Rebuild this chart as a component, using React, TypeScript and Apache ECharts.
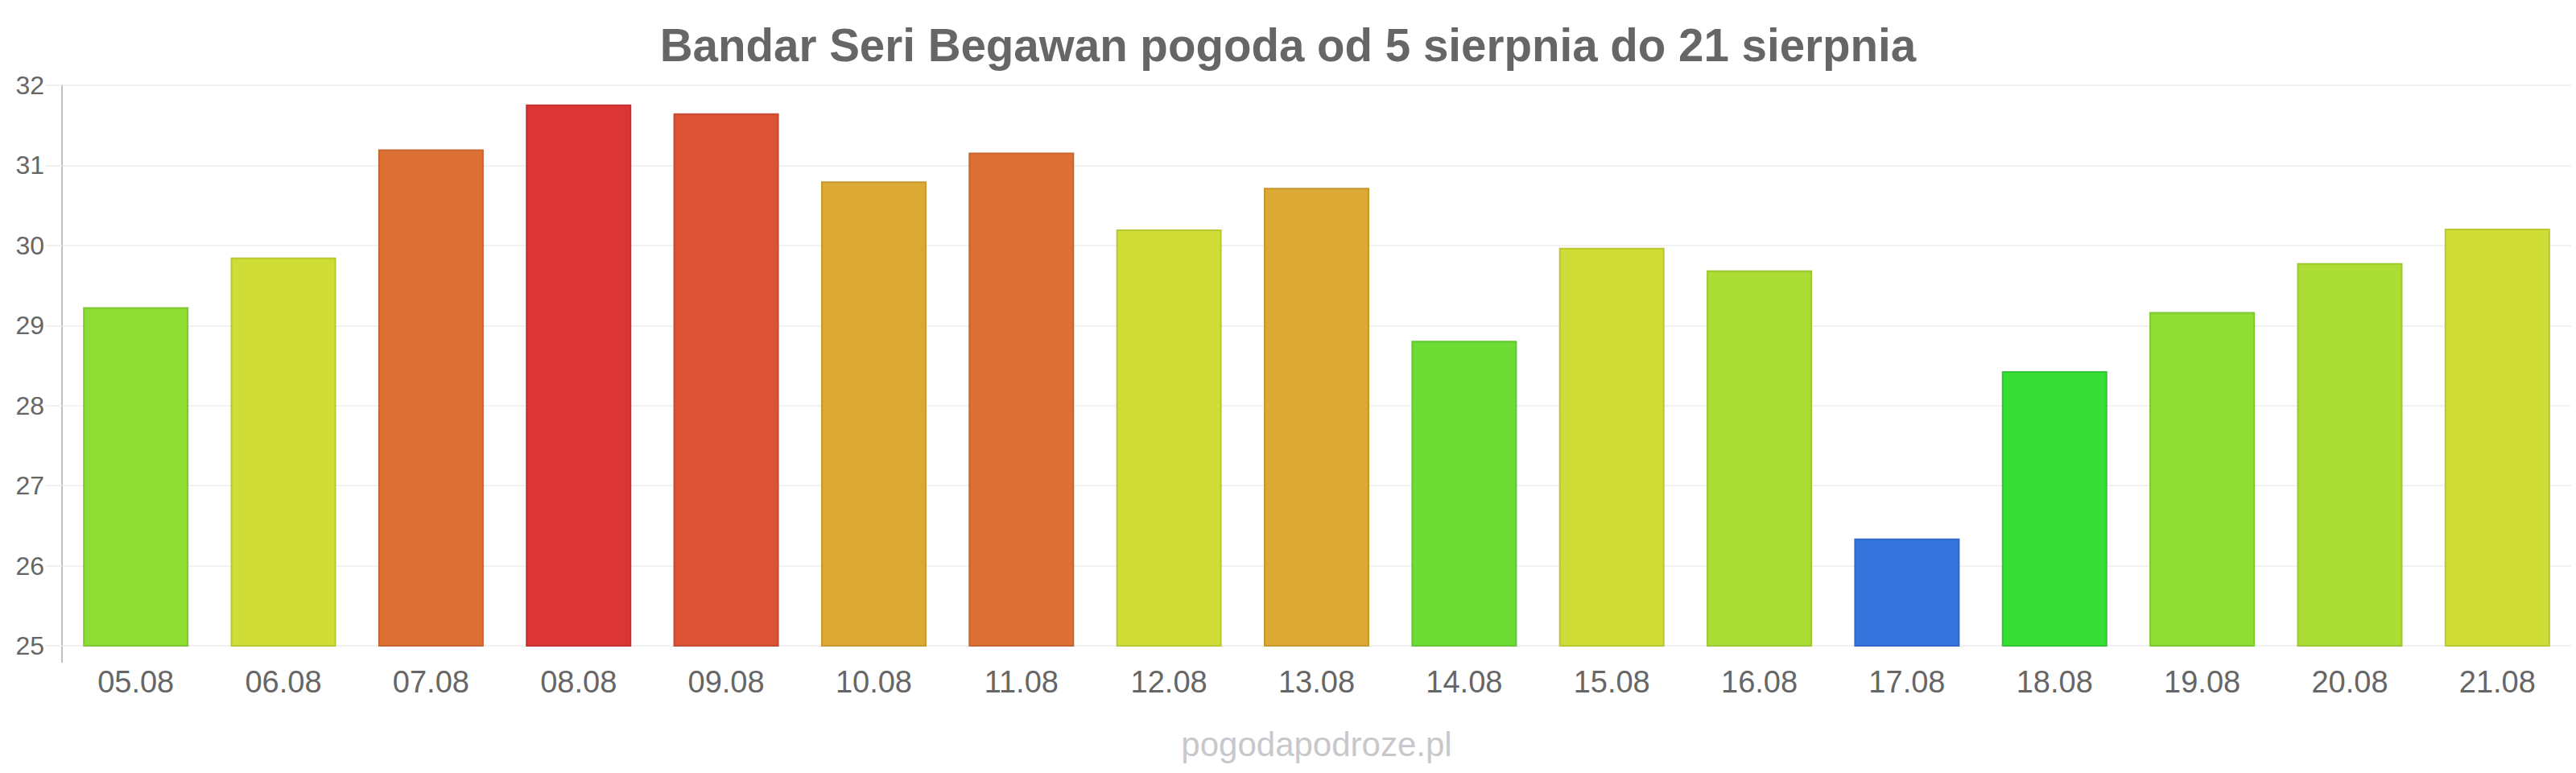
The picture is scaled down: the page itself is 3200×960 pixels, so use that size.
import React, { useEffect, useRef } from "react";
import * as echarts from "echarts";

const titleText = "Bandar Seri Begawan pogoda od 5 sierpnia do 21 sierpnia";
const watermarkText = "pogodapodroze.pl";

const categories = [
  "05.08", "06.08", "07.08", "08.08", "09.08", "10.08", "11.08", "12.08", "13.08",
  "14.08", "15.08", "16.08", "17.08", "18.08", "19.08", "20.08", "21.08",
];

const temperatures = [
  29.23, 29.85, 31.2, 31.76, 31.65, 30.8, 31.16, 30.2, 30.72,
  28.81, 29.97, 29.69, 26.34, 28.43, 29.17, 29.78, 30.21,
];

const barColors = [
  "#8ddd35", "#cfdd36", "#dd7035", "#db3535", "#dc5235", "#dda935", "#dd7035", "#cfdd36", "#dda935",
  "#6ddd35", "#cfdd36", "#acdd35", "#3575dd", "#35dd35", "#8ddd35", "#acdd35", "#cfdd36",
];

const yMin = 25;
const yMax = 32;
const yInterval = 1;

const FONT = "'Liberation Sans', Arial, Helvetica, sans-serif";

function darken(hex: string, f: number): string {
  const n = parseInt(hex.slice(1), 16);
  const r = Math.round(((n >> 16) & 255) * f);
  const g = Math.round(((n >> 8) & 255) * f);
  const b = Math.round((n & 255) * f);
  return "#" + [r, g, b].map((v) => v.toString(16).padStart(2, "0")).join("");
}

export default function App() {
  const ref = useRef<HTMLDivElement>(null);

  useEffect(() => {
    document.body.style.margin = "0";
    if (!ref.current) return;
    const chart = echarts.init(ref.current, undefined, { renderer: "svg" });

    const gridLeft = 77;
    const gridRight = 6;
    const gridTop = 106;
    const gridBottom = 158;
    const plotCenterX = (gridLeft + (3200 - gridRight)) / 2;

    chart.setOption({
      animation: false,
      backgroundColor: "#ffffff",
      title: {
        text: titleText,
        left: "center",
        top: 23,
        textStyle: {
          fontFamily: FONT,
          fontSize: 56.5,
          fontWeight: "bold",
          color: "#666666",
        },
      },
      grid: {
        left: gridLeft,
        right: gridRight,
        top: gridTop,
        bottom: gridBottom,
        containLabel: false,
      },
      xAxis: {
        type: "category",
        data: categories,
        axisLine: { show: false },
        axisTick: { show: false },
        axisLabel: {
          margin: 26,
          fontFamily: FONT,
          fontSize: 38,
          color: "#666666",
        },
        splitLine: { show: false },
      },
      yAxis: {
        type: "value",
        min: yMin,
        max: yMax,
        interval: yInterval,
        axisLine: { show: true, lineStyle: { color: "#c0c0c0", width: 2 } },
        axisTick: { show: true, length: 20, lineStyle: { color: "#f0f0f0", width: 2 } },
        axisLabel: {
          margin: 22,
          fontFamily: FONT,
          fontSize: 32,
          color: "#666666",
        },
        splitLine: { show: true, lineStyle: { color: "#f2f2f2", width: 2 } },
      },
      series: [
        {
          type: "bar",
          barWidth: 131,
          data: temperatures.map((v, i) => ({
            value: v,
            itemStyle: {
              color: barColors[i],
              borderColor: darken(barColors[i], 0.9),
              borderWidth: 2,
            },
          })),
        },
      ],
      graphic: [
        {
          type: "line",
          shape: { x1: gridLeft, y1: 960 - gridBottom, x2: gridLeft, y2: 960 - gridBottom + 21 },
          style: { stroke: "#c0c0c0", lineWidth: 2 },
          silent: true,
        },
        {
          type: "text",
          x: plotCenterX,
          y: 924,
          style: {
            text: watermarkText,
            fontFamily: FONT,
            fontSize: 42,
            fill: "#c8c8cc",
            align: "center",
            verticalAlign: "middle",
          },
          silent: true,
        },
      ],
    });

    return () => chart.dispose();
  }, []);

  return <div ref={ref} style={{ width: 3200, height: 960 }} />;
}
